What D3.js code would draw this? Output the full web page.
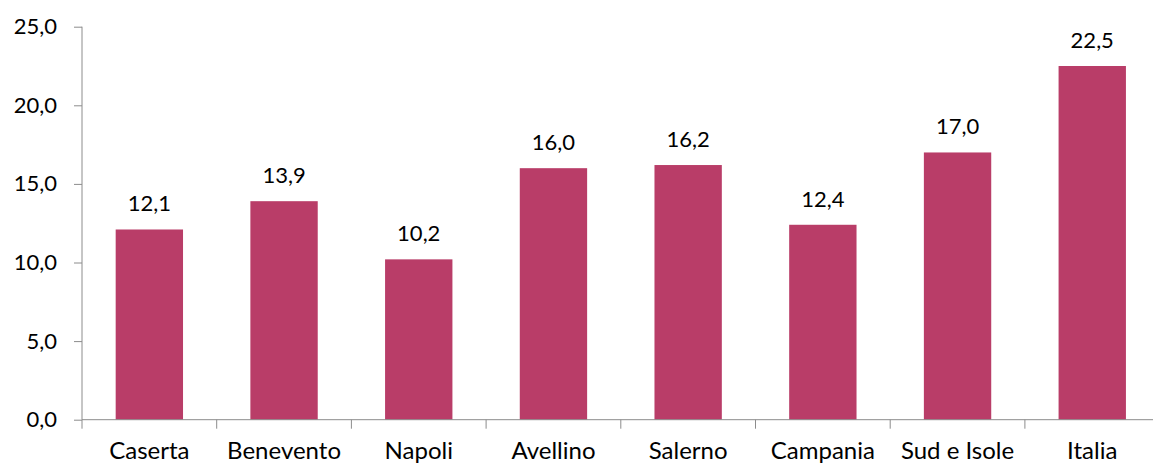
<!DOCTYPE html>
<html>
<head>
<meta charset="utf-8">
<script src="https://cdn.jsdelivr.net/npm/d3@7"></script>
<style>
  html, body { margin: 0; padding: 0; background: #fff; }
  svg { display: block; }
  text { font-family: Lato, "Open Sans", sans-serif; fill: #000; }
</style>
</head>
<body>
<svg id="chart" width="1153" height="466"></svg>
<script>
// Values per territory
const categories = ["Caserta", "Benevento", "Napoli", "Avellino", "Salerno", "Campania", "Sud e Isole", "Italia"];
const values = [12.1, 13.9, 10.2, 16.0, 16.2, 12.4, 17.0, 22.5];
const yTicks = [0, 5, 10, 15, 20, 25];

const fmt = v => d3.format(".1f")(v).replace(".", ",");

const svg = d3.select("#chart");
const left = 82, baseY = 419.7, band = 134.7;
const x = d3.scaleBand()
  .domain(categories)
  .range([left, left + band * categories.length])
  .paddingInner(0.5)
  .paddingOuter(0.25);
const y = d3.scaleLinear().domain([0, 25]).range([baseY, baseY - 25 * 15.72]);

const axisColor = "#8c8c8c";

// Bars
svg.append("g").selectAll("rect")
  .data(values)
  .join("rect")
  .attr("x", (d, i) => x(categories[i]))
  .attr("y", d => y(d))
  .attr("width", x.bandwidth())
  .attr("height", d => baseY - y(d))
  .attr("fill", "#b93d68");

// Value labels
svg.append("g").selectAll("text")
  .data(values)
  .join("text")
  .attr("x", (d, i) => x(categories[i]) + x.bandwidth() / 2)
  .attr("y", d => y(d) - 18)
  .attr("text-anchor", "middle")
  .attr("font-size", 22)
  .text(d => fmt(d));

// Y axis
const yAxis = svg.append("g")
  .attr("transform", `translate(${left},0)`)
  .call(d3.axisLeft(y).tickValues(yTicks).tickFormat(fmt).tickSize(8).tickPadding(17));
yAxis.select(".domain").attr("stroke", axisColor).attr("d", `M-0.0,${y(25)}V${baseY}`);
yAxis.selectAll(".tick line").attr("stroke", axisColor);
yAxis.selectAll(".tick text").attr("font-size", 22).attr("fill", "#000")
  .style("font-family", "Lato, 'Open Sans', sans-serif");

// X axis: baseline with ticks between categories
const xg = svg.append("g");
xg.append("line")
  .attr("x1", left).attr("x2", 1153)
  .attr("y1", baseY).attr("y2", baseY)
  .attr("stroke", axisColor);
const bounds = d3.range(categories.length + 1).map(i => left + i * band);
xg.selectAll("line.tk")
  .data(bounds)
  .join("line")
  .attr("class", "tk")
  .attr("x1", d => d).attr("x2", d => d)
  .attr("y1", baseY).attr("y2", baseY + 9)
  .attr("stroke", axisColor);
xg.selectAll("text")
  .data(categories)
  .join("text")
  .attr("x", d => x(d) + x.bandwidth() / 2)
  .attr("y", 459)
  .attr("text-anchor", "middle")
  .attr("font-size", 24)
  .text(d => d);
</script>
</body>
</html>
